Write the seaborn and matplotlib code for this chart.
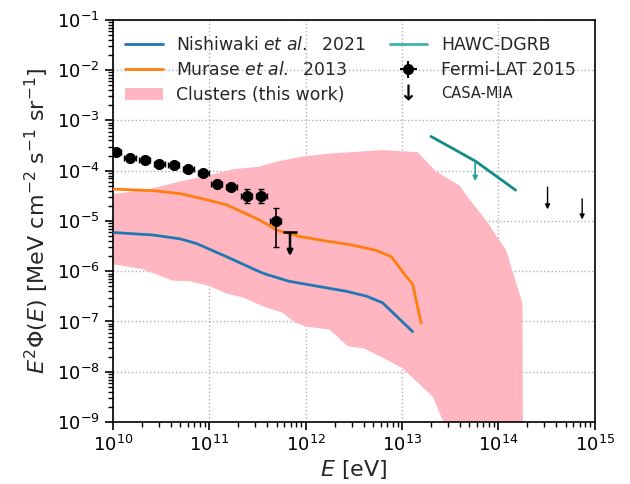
import numpy as np
import matplotlib
matplotlib.use("Agg")
import matplotlib.pyplot as plt
from matplotlib.lines import Line2D
from matplotlib.patches import Patch
import seaborn as sns

# ---------------- data ----------------
nishiwaki_E = [1.0e10, 2.63e10, 5.0e10, 7.41e10, 1.51e11, 3.31e11, 3.89e11, 6.76e11,
               1.62e12, 2.63e12, 4.27e12, 6.31e12, 1.29e13]
nishiwaki_F = [5.9e-6, 5.25e-6, 4.4e-6, 3.55e-6, 1.95e-6, 9.8e-7, 8.7e-7, 6.3e-7,
               4.7e-7, 4.0e-7, 3.2e-7, 2.35e-7, 6.3e-8]

murase_E = [1.0e10, 2.63e10, 5.0e10, 7.41e10, 1.51e11, 3.31e11, 5.01e11, 8.71e11,
            1.62e12, 3.09e12, 5.37e12, 7.76e12, 1.10e13, 1.29e13, 1.58e13]
murase_F = [4.3e-5, 4.0e-5, 3.5e-5, 2.95e-5, 2.1e-5, 1.05e-5, 6.6e-6, 4.9e-6,
            4.0e-6, 3.3e-6, 2.6e-6, 1.95e-6, 8.0e-7, 5.6e-7, 9.3e-8]

band_upper_E = [1.0e10, 2.4e10, 5.37e10, 1.0e11, 1.78e11, 3.31e11, 5.01e11,
                9.33e11, 1.78e12, 6.31e12, 1.45e13, 2.24e13, 3.98e13, 5.01e13,
                7.76e13, 9.55e13, 1.20e14, 1.78e14, 1.82e14]
band_upper_F = [3.4e-5, 4.3e-5, 6.3e-5, 8.1e-5, 1.07e-4, 1.2e-4, 1.51e-4,
                1.91e-4, 2.19e-4, 2.57e-4, 2.34e-4, 9.8e-5, 5.0e-5, 2.7e-5,
                9.3e-6, 5.0e-6, 2.7e-6, 2.3e-7, 1e-12]
band_lower_E = [1.0e10, 2.04e10, 4.17e10, 6.31e10, 1.0e11, 1.51e11, 2.24e11,
                3.63e11, 5.75e11, 7.76e11, 1.02e12, 1.78e12, 2.75e12, 4.07e12,
                6.31e12, 1.0e13, 2.09e13, 2.82e13, 1.82e14]
band_lower_F = [1.38e-6, 1.10e-6, 6.5e-7, 6.3e-7, 5.1e-7, 3.6e-7, 3.0e-7,
                2.0e-7, 1.5e-7, 9.5e-8, 7.9e-8, 6.9e-8, 3.2e-8, 2.9e-8,
                1.9e-8, 1.2e-8, 3.2e-9, 8e-10, 1e-12]

hawc_E = [2.0e13, 3.6e13, 5.9e13, 1.51e14]
hawc_F = [4.8e-4, 2.57e-4, 1.51e-4, 4.1e-5]
hawc_ul_E = [5.75e13]
hawc_ul_top = [1.51e-4]
hawc_ul_tip = [6.2e-5]

fermi_E = [1.07e10, 1.51e10, 2.14e10, 3.02e10, 4.27e10, 6.03e10, 8.71e10,
           1.20e11, 1.70e11, 2.45e11, 3.47e11, 4.90e11]
fermi_E_lo = [1.3e9, 1.9e9, 2.6e9, 3.7e9, 5.2e9, 7.4e9, 1.08e10,
              1.5e10, 2.1e10, 3.0e10, 4.3e10, 6.0e10]
fermi_E_hi = [1.5e9, 2.2e9, 3.1e9, 4.4e9, 6.1e9, 8.7e9, 1.26e10,
              1.7e10, 2.5e10, 3.5e10, 5.0e10, 7.0e10]
fermi_F = [2.34e-4, 1.78e-4, 1.62e-4, 1.35e-4, 1.29e-4, 1.10e-4, 8.9e-5,
           5.4e-5, 4.8e-5, 3.2e-5, 3.1e-5, 1.0e-5]
fermi_F_lo = [1.6e-5, 1.2e-5, 1.1e-5, 9.0e-6, 8.6e-6, 7.4e-6, 6.0e-6,
              9.0e-6, 7.2e-6, 8.8e-6, 8.6e-6, 7.0e-6]
fermi_F_hi = [1.7e-5, 1.3e-5, 1.2e-5, 9.7e-6, 9.3e-6, 7.9e-6, 6.4e-6,
              1.1e-5, 8.3e-6, 1.2e-5, 1.18e-5, 7.8e-6]
fermi_ul_E = [6.9e11]
fermi_ul_top = [5.9e-6]
fermi_ul_tip = [2.0e-6]

casa_E = [3.24e14, 7.41e14]
casa_top = [4.7e-5, 2.75e-5]
casa_tip = [1.7e-5, 1.07e-5]

legend_labels = [r"Nishiwaki $et\ al.$  2021", r"Murase $et\ al.$  2013",
                 "Clusters (this work)", "HAWC-DGRB", "Fermi-LAT 2015",
                 "CASA-MIA"]

# ---------------- style ----------------
sns.set_style("ticks", {"axes.grid": True, "grid.linestyle": ":",
                        "grid.color": "#b0b0b0", "axes.edgecolor": "black",
                        "xtick.color": "black", "ytick.color": "black",
                        "xtick.direction": "out", "ytick.direction": "out"})
plt.rcParams["font.family"] = ["DejaVu Sans"]
plt.rcParams["mathtext.fontset"] = "dejavusans"

fig = plt.figure(figsize=(6.3, 4.84), dpi=100)
ax = fig.add_axes([0.179, 0.128, 0.765, 0.831])

# band
poly_x = list(band_upper_E) + list(band_lower_E[::-1])
poly_y = list(band_upper_F) + list(band_lower_F[::-1])
ax.fill(poly_x, poly_y, color="lightpink", lw=0, zorder=1)

sns.lineplot(x=nishiwaki_E, y=nishiwaki_F, ax=ax, color="#1f77b4", lw=2,
             sort=False, zorder=3)
sns.lineplot(x=murase_E, y=murase_F, ax=ax, color="#ff7f0e", lw=2,
             sort=False, zorder=3)
sns.lineplot(x=hawc_E, y=hawc_F, ax=ax, color="#0f8c86", lw=2,
             sort=False, zorder=3)


def down_arrows(xs, tops, tips, color, lw, scale):
    for x, t, b in zip(xs, tops, tips):
        ax.annotate("", xy=(x, b), xytext=(x, t), xycoords="data",
                    textcoords="data", zorder=5,
                    arrowprops=dict(arrowstyle="-|>", color=color, lw=lw,
                                    mutation_scale=scale,
                                    shrinkA=0, shrinkB=0))


down_arrows(hawc_ul_E, hawc_ul_top, hawc_ul_tip, "#1fa39c", 1.2, 7)

ax.errorbar(fermi_E, fermi_F, xerr=[fermi_E_lo, fermi_E_hi],
            yerr=[fermi_F_lo, fermi_F_hi], fmt="o", color="black",
            markersize=7, elinewidth=1.2, capsize=2.5, zorder=4)
down_arrows(fermi_ul_E, fermi_ul_top, fermi_ul_tip, "black", 1.8, 8)
ax.plot(fermi_ul_E, fermi_ul_top, marker="_", markersize=10, mew=1.8,
        color="black", linestyle="none", zorder=5)
down_arrows(casa_E, casa_top, casa_tip, "black", 1.0, 7)

ax.set_xscale("log")
ax.set_yscale("log")
ax.set_xlim(1e10, 1e15)
ax.set_ylim(1e-9, 1e-1)
ax.set_xticks([1e10, 1e11, 1e12, 1e13, 1e14, 1e15])
ax.set_yticks([10.0 ** k for k in range(-9, 0)])
ax.grid(True, which="major", linestyle=":", color="#b0b0b0", lw=1)
ax.grid(False, which="minor")
ax.tick_params(which="major", length=6, width=1.2, labelsize=13)
ax.tick_params(which="minor", length=3.5, width=1)
for s in ax.spines.values():
    s.set_linewidth(1.2)
    s.set_color("black")
    s.set_visible(True)

ax.set_xlabel(r"$E$ [eV]", fontsize=16, labelpad=2)
ax.set_ylabel(r"$E^2\Phi(E)$ [MeV cm$^{-2}$ s$^{-1}$ sr$^{-1}$]",
              fontsize=16, labelpad=4)

# legend
fermi_handle = ax.errorbar([], [], xerr=[], yerr=[], fmt="o", color="black",
                           markersize=7, capsize=2.5)
handles = [
    Line2D([], [], color="#1f77b4", lw=2),
    Line2D([], [], color="#ff7f0e", lw=2),
    Patch(facecolor="lightpink", edgecolor="none"),
    Line2D([], [], color="#42b3ab", lw=2),
    fermi_handle,
    Line2D([], [], color="black", marker=r"$\downarrow$", markersize=11,
           mew=0.3, linestyle="none"),
]
leg = ax.legend(handles, legend_labels, ncol=2, loc="upper left",
                bbox_to_anchor=(0.0, 0.99), frameon=False, fontsize=12.4,
                handlelength=2.2, columnspacing=1.35, labelspacing=0.42,
                borderaxespad=0.3, handletextpad=0.8)
leg.get_texts()[5].set_fontsize(10.5)

fig.savefig("out.png", dpi=100)
